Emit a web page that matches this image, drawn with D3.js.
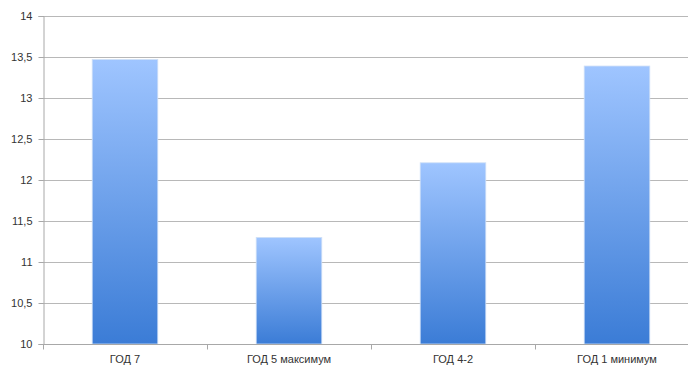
<!DOCTYPE html>
<html><head><meta charset="utf-8">
<script src="https://cdn.jsdelivr.net/npm/d3@7"></script>
<style>body{margin:0;background:#fff;overflow:hidden}svg{display:block}</style>
</head><body>
<script>
const categories = ["ГОД 7", "ГОД 5 максимум", "ГОД 4-2", "ГОД 1 минимум"];
const values = [13.47, 11.30, 12.21, 13.39];
const yTicks = [10, 10.5, 11, 11.5, 12, 12.5, 13, 13.5, 14];

const W = 688, H = 365;
const svg = d3.select("body").append("svg").attr("width", W).attr("height", H);
const defs = svg.append("defs");
const grad = defs.append("linearGradient").attr("id", "g").attr("x1", 0).attr("y1", 0).attr("x2", 0).attr("y2", 1);
grad.append("stop").attr("offset", "0%").attr("stop-color", "#9fc5ff");
grad.append("stop").attr("offset", "100%").attr("stop-color", "#3b7cd6");

const x = d3.scaleBand().domain(categories).range([43, 699]).paddingInner(0.6).paddingOuter(0.3);
const y = d3.scaleLinear().domain([10, 14]).range([344, 16]);
const fmt = d => String(d).replace(".", ",");

// grid
svg.append("g").selectAll("line").data(yTicks.slice(1)).join("line")
  .attr("x1", 43).attr("x2", W).attr("y1", d => y(d) + 0.5).attr("y2", d => y(d) + 0.5)
  .attr("stroke", "#b8b8b8").attr("stroke-width", 1.2);

// bars
svg.append("g").selectAll("rect").data(values).join("rect")
  .attr("x", (d, i) => x(categories[i])).attr("width", x.bandwidth())
  .attr("y", d => y(d)).attr("height", d => y(10) - y(d))
  .attr("fill", "url(#g)").attr("stroke", "#cfe0f7").attr("stroke-width", 0.8);

// y axis
const ya = svg.append("g").attr("transform", "translate(43.5,0)")
  .call(d3.axisLeft(y).tickValues(yTicks).tickFormat(fmt).tickSize(5).tickPadding(6));
ya.select(".domain").attr("stroke", "#a8a8a8");
ya.selectAll(".tick line").attr("stroke", "#a8a8a8");
ya.selectAll("text").attr("fill", "#333").style("font-family", "'Liberation Sans', Arial, sans-serif").style("font-size", "11px");

// x axis
const xb = d3.scaleLinear().domain([0, 4]).range([43, 699]);
const xa = svg.append("g").attr("transform", "translate(0,344.5)");
xa.append("line").attr("x1", 43).attr("x2", W).attr("stroke", "#a8a8a8");
xa.selectAll("line.t").data([0, 1, 2, 3, 4]).join("line").attr("class", "t")
  .attr("x1", d => xb(d) + 0.5).attr("x2", d => xb(d) + 0.5).attr("y1", 0).attr("y2", 5).attr("stroke", "#a8a8a8");
xa.selectAll("text").data(categories).join("text")
  .attr("x", d => x(d) + x.bandwidth() / 2).attr("y", 18)
  .attr("text-anchor", "middle").attr("fill", "#333")
  .style("font-family", "'Liberation Sans', Arial, sans-serif").style("font-size", "11px")
  .text(d => d);
</script>
</body></html>
